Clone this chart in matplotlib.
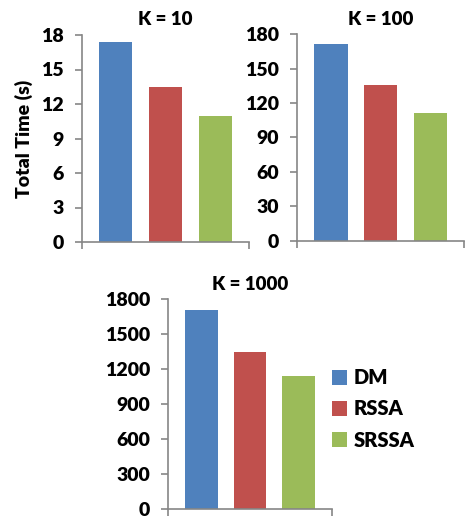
import matplotlib
matplotlib.use("Agg")
import matplotlib.pyplot as plt
from matplotlib.patches import Patch

plt.rcParams['font.family'] = ['Lato', 'DejaVu Sans']
plt.rcParams['font.weight'] = 'heavy'
WT = 'heavy'

series = ["DM", "RSSA", "SRSSA"]
colors = ["#4F81BD", "#C0504D", "#9BBB59"]
titles = ["K = 10", "K = 100", "K = 1000"]
values = {
    "K = 10": [17.4, 13.45, 11.0],
    "K = 100": [171.5, 135.5, 111.0],
    "K = 1000": [1708, 1348, 1143],
}
yticks = {
    "K = 10": [0, 3, 6, 9, 12, 15, 18],
    "K = 100": [0, 30, 60, 90, 120, 150, 180],
    "K = 1000": [0, 300, 600, 900, 1200, 1500, 1800],
}

W, H = 465, 519
fig = plt.figure(figsize=(W / 100, H / 100), dpi=100)

# axes rectangles in pixel coordinates (left, right, top, bottom)
rects = {
    "K = 10": (82, 249, 35, 242),
    "K = 100": (297.3, 464.3, 34.3, 240.7),
    "K = 1000": (168.3, 331.7, 299.3, 509.3),
}
axis_gray = "#868686"

for t in titles:
    l, r, tp, b = rects[t]
    ax = fig.add_axes([l / W, 1 - b / H, (r - l) / W, (b - tp) / H])
    x = range(len(series))
    ax.bar(x, values[t], width=0.67, color=colors)
    ax.set_xlim(-0.68, 2.68)
    ax.set_ylim(0, yticks[t][-1])
    ax.set_yticks(yticks[t])
    ax.set_xticks([-0.68, 2.68])
    ax.set_xticklabels([])
    for s in ["top", "right"]:
        ax.spines[s].set_visible(False)
    for s in ["left", "bottom"]:
        ax.spines[s].set_color(axis_gray)
        ax.spines[s].set_linewidth(1.2)
    ax.tick_params(axis="y", direction="out", length=5, width=1.2, color=axis_gray,
                   labelsize=14, pad=8)
    ax.tick_params(axis="x", direction="out", length=5, width=1.2, color=axis_gray)
    for lab in ax.get_yticklabels():
        lab.set_fontweight(WT)
    ax.set_title(t, fontsize=13.5, fontweight=WT, pad=7)
    if t == "K = 10":
        ax.set_ylabel("Total Time (s)", fontsize=14, fontweight=WT, labelpad=6)

handles = [Patch(facecolor=c, edgecolor="none", label=s) for s, c in zip(series, colors)]
leg = fig.legend(handles=handles, loc="center left", bbox_to_anchor=(326 / W, 1 - 409 / H),
                 frameon=False, fontsize=14.5, handlelength=0.75, handleheight=0.75,
                 handletextpad=0.3, labelspacing=0.6, borderaxespad=0, borderpad=0.3)
for txt in leg.get_texts():
    txt.set_fontweight(WT)

fig.savefig("out.png", dpi=100)
